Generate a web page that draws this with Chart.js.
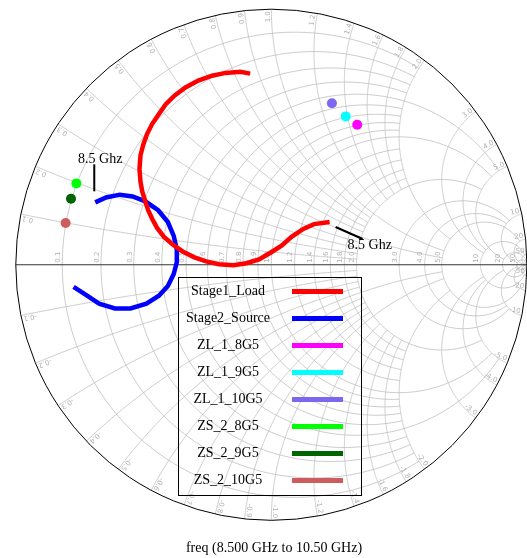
<!DOCTYPE html>
<html>
<head>
<meta charset="utf-8">
<script src="https://cdn.jsdelivr.net/npm/chart.js@4.4.0/dist/chart.umd.min.js"></script>
<style>
  html, body { margin: 0; padding: 0; background: #ffffff; }
  #wrap { width: 527px; height: 558px; position: relative; }
</style>
</head>
<body>
<div id="wrap"><canvas id="smith" width="527" height="558"></canvas></div>
<script>
// Reflection coefficient (real / imaginary part), 8.5 GHz -> 10.5 GHz
const loadRe = [0.228, 0.167, 0.125, 0.079, 0.040, -0.002, -0.048, -0.098, -0.148, -0.205, -0.255, -0.301,
  -0.347, -0.386, -0.420, -0.447, -0.466, -0.482, -0.493, -0.505, -0.512, -0.516, -0.512, -0.501, -0.486,
  -0.466, -0.440, -0.413, -0.378, -0.336, -0.286, -0.232, -0.179, -0.121, -0.083];
const loadIm = [0.167, 0.159, 0.140, 0.109, 0.075, 0.048, 0.021, 0.006, -0.002, 0.002, 0.013, 0.029,
  0.052, 0.079, 0.109, 0.144, 0.179, 0.213, 0.248, 0.286, 0.324, 0.374, 0.428, 0.470, 0.512,
  0.551, 0.589, 0.628, 0.662, 0.693, 0.720, 0.739, 0.750, 0.754, 0.747];

const sourceRe = [-0.689, -0.647, -0.593, -0.543, -0.493, -0.443, -0.405, -0.382, -0.370, -0.370, -0.382,
  -0.405, -0.440, -0.489, -0.551, -0.612, -0.674, -0.727, -0.774];
const sourceIm = [0.244, 0.263, 0.274, 0.267, 0.248, 0.213, 0.167, 0.113, 0.060, 0.010, -0.036,
  -0.083, -0.121, -0.152, -0.171, -0.171, -0.152, -0.117, -0.086];

// Single-frequency impedance points
const pointNames = ['ZL_1_8G5', 'ZL_1_9G5', 'ZL_1_10G5', 'ZS_2_8G5', 'ZS_2_9G5', 'ZS_2_10G5'];
const pointRe = [0.336, 0.291, 0.237, -0.763, -0.784, -0.805];
const pointIm = [0.547, 0.580, 0.631, 0.318, 0.258, 0.163];
const pointColors = ['#ff00ff', '#00ffff', '#7b68ee', '#00ff00', '#006400', '#cd5c5c'];

const curveNames = ['Stage1_Load', 'Stage2_Source'];
const curveColors = ['#ff0000', '#0000ff'];
const startLabel = '8.5 Ghz';
const freqCaption = 'freq (8.500 GHz to 10.50 GHz)';

// Smith grid: normalised values and how far each line runs along the other family
const rGridValues = [0.1, 0.2, 0.3, 0.4, 0.5, 0.6, 0.7, 0.8, 0.9, 1.0, 1.2, 1.4, 1.6, 1.8, 2.0, 3.0, 4.0, 5.0, 10, 20, 50];
const rGridLimits = [2, 2, 2, 2, 5, 2, 2, 2, 2, 5, 2, 2, 2, 2, 5, 10, 10, 20, 50, Infinity, Infinity];
const xGridValues = [0.1, 0.2, 0.3, 0.4, 0.5, 0.6, 0.7, 0.8, 0.9, 1.0, 1.2, 1.4, 1.6, 1.8, 2.0, 3.0, 4.0, 5.0, 10, 20, 50];
const xGridLimits = [2, 2, 2, 2, 5, 2, 2, 2, 2, 5, 2, 2, 2, 2, 5, 10, 10, 20, 50, Infinity, Infinity];

// Canvas geometry of the unit circle
const W = 527, H = 558, CX = 271.5, CY = 264.5, RAD = 260.5;

const toPts = (re, im) => re.map((v, i) => ({ x: v, y: im[i] }));
const fmt = v => (v < 10 ? v.toFixed(1) : String(v));

function gammaOf(r, x) {
  const d = (r + 1) * (r + 1) + x * x;
  return [(r * r + x * x - 1) / d, (2 * x) / d];
}

const smithGrid = {
  id: 'smithGrid',
  beforeDatasetsDraw(chart) {
    const { ctx } = chart;
    const sx = chart.scales.x, sy = chart.scales.y;
    const P = (g) => [sx.getPixelForValue(g[0]), sy.getPixelForValue(g[1])];
    const [ox, oy] = P([0, 0]);
    const rad = sx.getPixelForValue(1) - ox;

    ctx.save();
    ctx.beginPath();
    ctx.arc(ox, oy, rad, 0, Math.PI * 2);
    ctx.clip();
    ctx.strokeStyle = '#bfbfbf';
    ctx.lineWidth = 0.8;
    const N = 240;
    // constant-resistance circles
    rGridValues.forEach((r, i) => {
      const tm = Math.atan(rGridLimits[i]);
      ctx.beginPath();
      for (let k = 0; k <= N; k++) {
        const t = -tm + (2 * tm * k) / N;
        const xv = Math.abs(t) >= Math.PI / 2 - 1e-9 ? Math.sign(t) * 1e9 : Math.tan(t);
        const [px, py] = P(gammaOf(r, xv));
        k ? ctx.lineTo(px, py) : ctx.moveTo(px, py);
      }
      ctx.stroke();
    });
    // constant-reactance arcs (upper and lower)
    xGridValues.forEach((xv, i) => {
      const tm = Math.atan(xGridLimits[i]);
      [1, -1].forEach(s => {
        ctx.beginPath();
        for (let k = 0; k <= N; k++) {
          const t = (tm * k) / N;
          const r = t >= Math.PI / 2 - 1e-9 ? 1e9 : Math.tan(t);
          const [px, py] = P(gammaOf(r, s * xv));
          k ? ctx.lineTo(px, py) : ctx.moveTo(px, py);
        }
        ctx.stroke();
      });
    });
    ctx.restore();

    // real axis and outer circle
    ctx.save();
    ctx.strokeStyle = '#333333';
    ctx.lineWidth = 1;
    ctx.beginPath();
    ctx.moveTo(ox - rad, oy);
    ctx.lineTo(ox + rad, oy);
    ctx.stroke();
    ctx.strokeStyle = '#000000';
    ctx.beginPath();
    ctx.arc(ox, oy, rad, 0, Math.PI * 2);
    ctx.stroke();

    // grid labels
    ctx.fillStyle = '#b0b0b0';
    ctx.font = '7px "DejaVu Sans", sans-serif';
    ctx.textBaseline = 'bottom';
    rGridValues.forEach(r => {
      const [px] = P(gammaOf(r, 0));
      ctx.save();
      ctx.translate(px - 0.5, oy - 2);
      ctx.rotate(-Math.PI / 2);
      ctx.textAlign = 'left';
      ctx.fillText(fmt(r), 0, 0);
      ctx.restore();
    });
    xGridValues.forEach(xv => {
      [1, -1].forEach(s => {
        const g = gammaOf(0, s * xv);
        const a = Math.atan2(g[1], g[0]);
        const px = ox + (rad - 2) * Math.cos(a);
        const py = oy - (rad - 2) * Math.sin(a);
        ctx.save();
        ctx.translate(px, py);
        ctx.rotate(-a);
        ctx.textAlign = 'right';
        ctx.fillText((s < 0 ? '-' : '') + fmt(xv), 0, 0);
        ctx.restore();
      });
    });
    ctx.restore();
  },
  afterDatasetsDraw(chart) {
    const { ctx } = chart;
    const sx = chart.scales.x, sy = chart.scales.y;
    const ds = chart.data.datasets;
    ctx.save();

    // start-frequency tags on both traces
    ctx.strokeStyle = '#000000';
    ctx.fillStyle = '#000000';
    ctx.lineWidth = 2;
    ctx.font = '14px "Liberation Serif", "Times New Roman", serif';
    const s0 = ds[1].data[0];
    const bx = sx.getPixelForValue(s0.x), by = sy.getPixelForValue(s0.y);
    ctx.beginPath();
    ctx.moveTo(bx - 1, by - 11);
    ctx.lineTo(bx - 1, by - 38);
    ctx.stroke();
    ctx.textAlign = 'center';
    ctx.textBaseline = 'alphabetic';
    ctx.fillText(startLabel, bx + 5, by - 39);

    const l0 = ds[0].data[0];
    const rx = sx.getPixelForValue(l0.x), ry = sy.getPixelForValue(l0.y);
    ctx.beginPath();
    ctx.moveTo(rx + 6, ry + 5);
    ctx.lineTo(rx + 33, ry + 17);
    ctx.stroke();
    ctx.textAlign = 'left';
    ctx.fillText(startLabel, rx + 18, ry + 27);

    // legend box
    const lx = 178.5, ly = 277.5, lw = 183, lh = 218;
    ctx.lineWidth = 1;
    ctx.strokeRect(lx, ly, lw, lh);
    ds.forEach((d, i) => {
      const yy = 291.5 + i * 27;
      ctx.fillStyle = '#000000';
      ctx.textAlign = 'center';
      ctx.textBaseline = 'middle';
      ctx.fillText(d.label, 228, yy);
      ctx.strokeStyle = d.legendColor;
      ctx.lineWidth = 5;
      ctx.beginPath();
      ctx.moveTo(292, yy);
      ctx.lineTo(343, yy);
      ctx.stroke();
    });

    // sweep caption
    ctx.fillStyle = '#000000';
    ctx.textAlign = 'center';
    ctx.textBaseline = 'alphabetic';
    ctx.fillText(freqCaption, 274, 552);
    ctx.restore();
  }
};

const datasets = [
  { label: curveNames[0], data: toPts(loadRe, loadIm), showLine: true, borderColor: curveColors[0],
    legendColor: curveColors[0], borderWidth: 4.5, pointRadius: 0, tension: 0, borderJoinStyle: 'miter' },
  { label: curveNames[1], data: toPts(sourceRe, sourceIm), showLine: true, borderColor: curveColors[1],
    legendColor: curveColors[1], borderWidth: 4.5, pointRadius: 0, tension: 0, borderJoinStyle: 'miter' }
];
pointNames.forEach((n, i) => {
  datasets.push({ label: n, data: [{ x: pointRe[i], y: pointIm[i] }], showLine: false,
    backgroundColor: pointColors[i], borderColor: pointColors[i], legendColor: pointColors[i],
    pointRadius: 5, borderWidth: 0 });
});

new Chart(document.getElementById('smith'), {
  type: 'scatter',
  data: { datasets },
  options: {
    responsive: false,
    animation: false,
    layout: { padding: 0 },
    plugins: { legend: { display: false }, tooltip: { enabled: false }, title: { display: false } },
    scales: {
      x: { type: 'linear', display: false, min: -CX / RAD, max: (W - CX) / RAD },
      y: { type: 'linear', display: false, min: -(H - CY) / RAD, max: CY / RAD }
    }
  },
  plugins: [smithGrid]
});
</script>
</body>
</html>
